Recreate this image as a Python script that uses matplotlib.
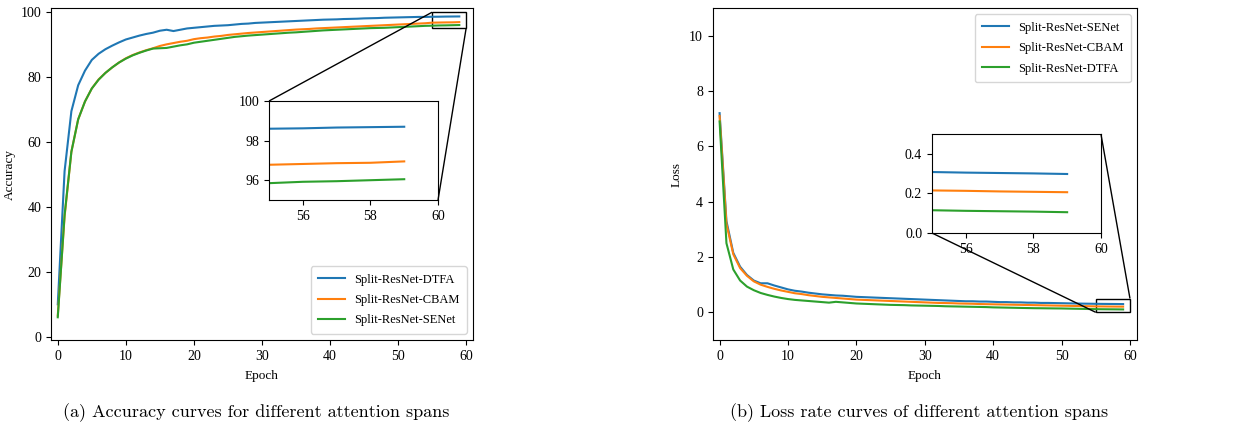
import matplotlib
matplotlib.use("Agg")
import matplotlib.pyplot as plt
from mpl_toolkits.axes_grid1.inset_locator import mark_inset

# 训练轮数
epochs = list(range(60))

# (a) 准确率
acc_dtfa = [10.0, 51.0, 69.5, 77.5, 82.0, 85.3, 87.2, 88.6, 89.7, 90.7,
            91.6, 92.2, 92.8, 93.3, 93.7, 94.3, 94.6, 94.2, 94.6, 95.0,
            95.2, 95.4, 95.6, 95.8, 95.9, 96.0, 96.2, 96.4, 96.5, 96.7,
            96.8, 96.9, 97.0, 97.1, 97.2, 97.3, 97.4, 97.5, 97.6, 97.7,
            97.75, 97.8, 97.9, 97.95, 98.0, 98.1, 98.15, 98.2, 98.3, 98.35,
            98.4, 98.45, 98.5, 98.55, 98.55, 98.6, 98.62, 98.66, 98.68, 98.7]
acc_cbam = [6.5, 37.0, 57.0, 67.0, 72.5, 76.5, 79.3, 81.3, 83.0, 84.5,
            85.8, 86.8, 87.6, 88.3, 88.9, 89.6, 90.1, 90.5, 90.9, 91.2,
            91.7, 92.0, 92.2, 92.5, 92.7, 93.0, 93.2, 93.4, 93.6, 93.75,
            93.9, 94.05, 94.2, 94.35, 94.5, 94.65, 94.75, 94.85, 95.0, 95.1,
            95.2, 95.3, 95.4, 95.5, 95.6, 95.7, 95.8, 95.9, 96.0, 96.1,
            96.2, 96.3, 96.4, 96.5, 96.6, 96.78, 96.82, 96.86, 96.88, 96.95]
acc_senet = [6.0, 37.5, 57.0, 67.0, 72.5, 76.5, 79.2, 81.3, 83.0, 84.5,
             85.7, 86.7, 87.5, 88.2, 88.8, 88.9, 89.0, 89.4, 89.8, 90.1,
             90.6, 90.9, 91.2, 91.5, 91.8, 92.1, 92.4, 92.6, 92.8, 92.95,
             93.1, 93.25, 93.4, 93.55, 93.7, 93.8, 93.95, 94.1, 94.25, 94.4,
             94.5, 94.6, 94.7, 94.8, 94.9, 95.0, 95.1, 95.15, 95.2, 95.3,
             95.4, 95.5, 95.6, 95.7, 95.8, 95.85, 95.92, 95.95, 96.0, 96.05]

# (b) 损失
loss_senet = [7.2, 3.3, 2.15, 1.65, 1.35, 1.15, 1.05, 1.05, 0.97, 0.9,
              0.83, 0.78, 0.75, 0.71, 0.68, 0.65, 0.63, 0.61, 0.6, 0.58,
              0.56, 0.55, 0.54, 0.53, 0.52, 0.51, 0.5, 0.49, 0.48, 0.47,
              0.46, 0.45, 0.44, 0.43, 0.42, 0.41, 0.4, 0.4, 0.39, 0.39,
              0.38, 0.37, 0.37, 0.36, 0.36, 0.35, 0.35, 0.34, 0.34, 0.335,
              0.33, 0.325, 0.32, 0.315, 0.312, 0.308, 0.305, 0.303, 0.301, 0.298]
loss_cbam = [7.1, 3.2, 2.1, 1.6, 1.32, 1.12, 1.0, 0.92, 0.85, 0.79,
             0.74, 0.69, 0.66, 0.62, 0.59, 0.56, 0.54, 0.52, 0.5, 0.48,
             0.46, 0.45, 0.44, 0.43, 0.42, 0.41, 0.4, 0.39, 0.38, 0.37,
             0.36, 0.35, 0.34, 0.335, 0.33, 0.32, 0.315, 0.31, 0.3, 0.295,
             0.29, 0.285, 0.28, 0.275, 0.27, 0.265, 0.26, 0.255, 0.25, 0.245,
             0.24, 0.235, 0.23, 0.225, 0.22, 0.215, 0.213, 0.21, 0.208, 0.206]
loss_dtfa = [6.9, 2.5, 1.55, 1.15, 0.93, 0.8, 0.7, 0.63, 0.57, 0.52,
             0.48, 0.45, 0.43, 0.41, 0.39, 0.37, 0.35, 0.38, 0.36, 0.34,
             0.32, 0.31, 0.3, 0.29, 0.28, 0.27, 0.265, 0.26, 0.25, 0.245,
             0.24, 0.235, 0.23, 0.22, 0.215, 0.21, 0.205, 0.2, 0.195, 0.19,
             0.18, 0.175, 0.17, 0.165, 0.16, 0.155, 0.15, 0.148, 0.145, 0.142,
             0.14, 0.135, 0.13, 0.125, 0.12, 0.115, 0.112, 0.11, 0.108, 0.105]

plt.rcParams['font.family'] = ['Liberation Serif', 'DejaVu Serif']
plt.rcParams['font.size'] = 9.5
plt.rcParams['xtick.labelsize'] = 10
plt.rcParams['ytick.labelsize'] = 10
plt.rcParams['legend.fontsize'] = 9
plt.rcParams['legend.labelspacing'] = 0.67
plt.rcParams['legend.borderpad'] = 0.6
plt.rcParams['legend.handlelength'] = 2.15
plt.rcParams['legend.handletextpad'] = 0.7

fig = plt.figure(figsize=(12.37, 4.28), dpi=100)

# 左图：准确率
ax1 = fig.add_axes([0.0412, 0.2056, 0.3411, 0.7757])
ax1.plot(epochs, acc_dtfa, label='Split-ResNet-DTFA')
ax1.plot(epochs, acc_cbam, label='Split-ResNet-CBAM')
ax1.plot(epochs, acc_senet, label='Split-ResNet-SENet')
ax1.set_xlim(-1, 61)
ax1.set_ylim(-1, 101.3)
ax1.set_xlabel('Epoch', labelpad=5)
ax1.set_ylabel('Accuracy', labelpad=3)
ax1.legend(loc='lower right')

ins1 = fig.add_axes([0.2175, 0.5327, 0.1366, 0.2313])
ins1.plot(epochs, acc_dtfa)
ins1.plot(epochs, acc_cbam)
ins1.plot(epochs, acc_senet)
ins1.set_xlim(55, 60)
ins1.set_ylim(95, 100)
ins1.set_xticks([56, 58, 60])
ins1.set_yticks([96, 98, 100])
mark_inset(ax1, ins1, loc1=2, loc2=4, fc='none', ec='black', lw=1)

# 右图：损失
ax2 = fig.add_axes([0.5762, 0.2056, 0.3428, 0.7757])
ax2.plot(epochs, loss_senet, label='Split-ResNet-SENet')
ax2.plot(epochs, loss_cbam, label='Split-ResNet-CBAM')
ax2.plot(epochs, loss_dtfa, label='Split-ResNet-DTFA')
ax2.set_xlim(-1, 61)
ax2.set_ylim(-1, 11)
ax2.set_xlabel('Epoch', labelpad=5)
ax2.set_ylabel('Loss', labelpad=5)
ax2.legend(loc='upper right')

ins2 = fig.add_axes([0.7534, 0.4556, 0.1366, 0.2313])
ins2.plot(epochs, loss_senet)
ins2.plot(epochs, loss_cbam)
ins2.plot(epochs, loss_dtfa)
ins2.set_xlim(55, 60)
ins2.set_ylim(0, 0.5)
ins2.set_xticks([56, 58, 60])
ins2.set_yticks([0.0, 0.2, 0.4])
mark_inset(ax2, ins2, loc1=1, loc2=3, fc='none', ec='black', lw=1)

# 子图标题
fig.text(256 / 1237, 1 - 413 / 428, '(a) Accuracy curves for different attention spans',
         family='cmr10', fontsize=13, ha='center', va='center')
fig.text(919 / 1237, 1 - 413 / 428, '(b) Loss rate curves of different attention spans',
         family='cmr10', fontsize=13, ha='center', va='center')

fig.savefig('out.png', dpi=100)
